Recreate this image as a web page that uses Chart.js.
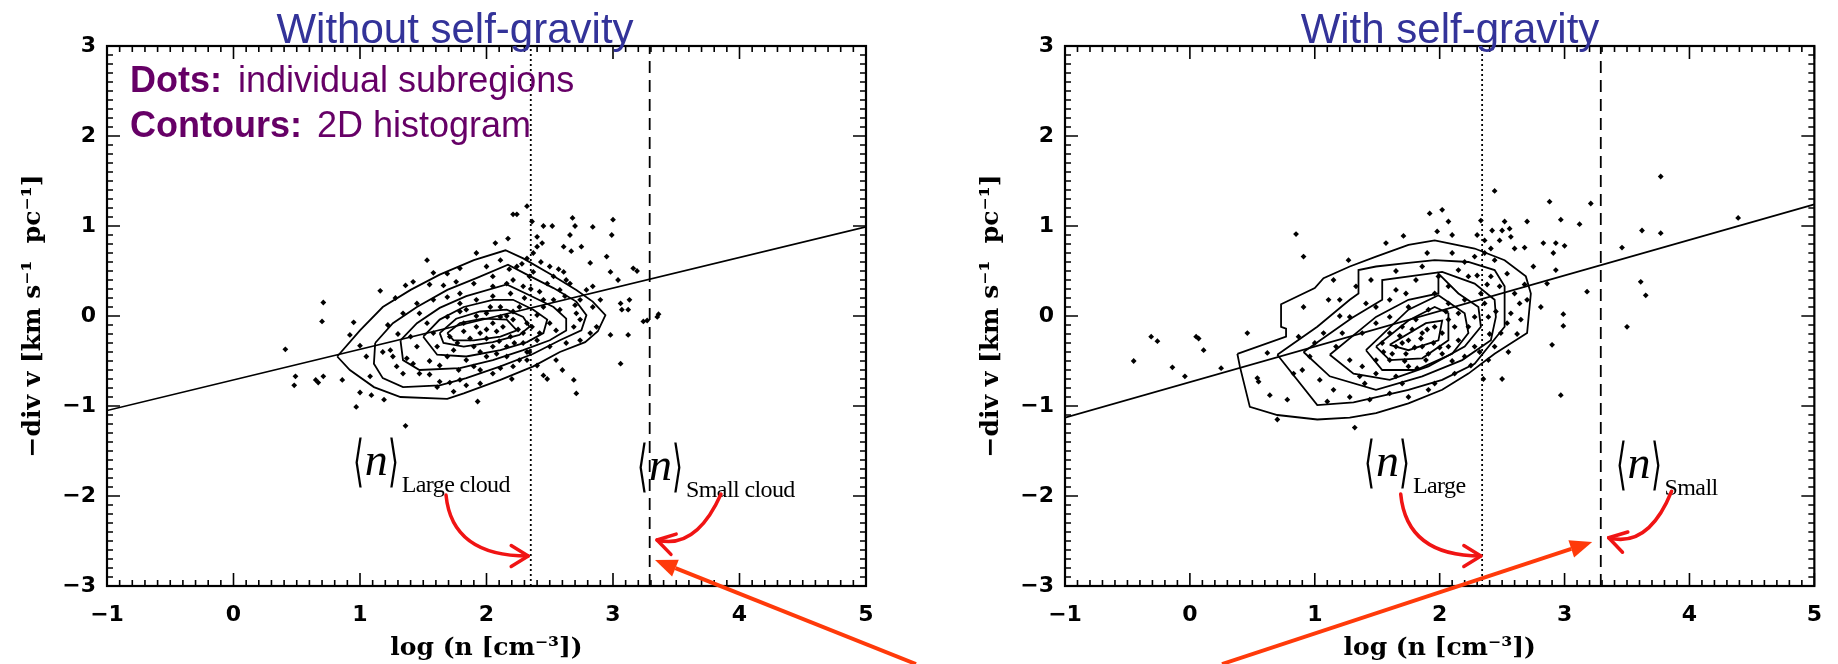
<!DOCTYPE html>
<html>
<head>
<meta charset="utf-8">
<script src="https://cdn.jsdelivr.net/npm/chart.js@4.4.0/dist/chart.umd.min.js"></script>
<style>
html,body{margin:0;padding:0;background:#fff;width:1838px;height:664px;overflow:hidden;}
.panel{position:absolute;top:0;width:919px;height:664px;}
#p1{left:0;} #p2{left:919px;}
</style>
</head>
<body>
<div class="panel" id="p1"><canvas id="c1" width="919" height="664"></canvas></div>
<div class="panel" id="p2"><canvas id="c2" width="919" height="664"></canvas></div>
<script>
// ---------- tick labels / texts ----------
const xTickValues = [-1, 0, 1, 2, 3, 4, 5];
const yTickValues = [-3, -2, -1, 0, 1, 2, 3];
const xAxisTitle = 'log (n [cm\u207B\u00B3])';
const yAxisTitle = '\u2212div v [km s\u207B\u00B9  pc\u207B\u00B9]';
const leftTitle = 'Without self-gravity';
const rightTitle = 'With self-gravity';

// ---------- left panel (without self-gravity) ----------
const leftDots = [[2.24,1.13],[2.21,1.13],[2.32,1.22],[2.36,1.05],[2.45,1.00],[2.52,1.00],[2.68,1.09],[2.70,1.00],[2.84,0.99],[3.00,1.07],[2.99,0.90],[2.66,0.90],[2.75,0.77],[2.61,0.77],[2.67,0.72],[2.40,0.88],[2.44,0.81],[2.40,0.77],[2.17,0.86],[2.07,0.81],[2.82,0.59],[2.95,0.66],[2.98,0.49],[3.04,0.40],[3.16,0.53],[3.19,0.50],[3.13,0.18],[3.06,0.14],[3.07,0.07],[3.12,0.07],[3.24,-0.06],[3.35,-0.01],[3.12,-0.21],[2.98,-0.21],[3.06,-0.53],[2.69,-0.71],[2.71,-0.86],[2.45,-0.66],[2.48,-0.70],[1.93,-0.95],[1.53,0.62],[1.16,0.28],[1.36,0.34],[0.71,0.15],[0.70,-0.06],[0.41,-0.37],[0.49,-0.67],[0.48,-0.77],[0.65,-0.71],[0.67,-0.74],[0.71,-0.67],[0.86,-0.71],[0.97,-1.01],[1.00,-0.85],[1.09,-0.88],[1.19,-0.93],[1.36,-1.22],[0.95,-0.07],[0.92,-0.21],[1.00,-0.33],[1.05,-0.45],[1.08,-0.67],[1.18,-0.40],[1.24,-0.38],[1.26,-0.45],[1.29,-0.56],[1.37,-0.47],[1.42,-0.53],[1.34,-0.64],[1.47,-0.64],[1.55,-0.65],[1.63,-0.73],[1.71,-0.74],[1.79,-0.71],[1.61,-0.79],[1.74,-0.84],[1.84,-0.77],[1.95,-0.60],[2.05,-0.64],[2.21,-0.56],[2.32,-0.49],[2.34,-0.40],[2.55,-0.49],[2.50,-0.34],[2.63,-0.30],[2.74,-0.27],[2.82,-0.19],[2.87,-0.12],[2.69,-0.12],[2.74,-0.04],[2.71,0.03],[2.84,0.10],[2.90,0.18],[2.74,0.18],[2.79,0.29],[2.84,0.33],[2.58,0.29],[2.63,0.40],[2.53,0.44],[2.61,0.49],[2.48,0.36],[2.42,0.27],[2.37,0.49],[2.32,0.64],[2.37,0.70],[2.24,0.55],[2.11,0.62],[2.21,0.40],[2.05,0.44],[1.92,0.70],[1.79,0.53],[1.69,0.47],[1.58,0.48],[1.90,0.36],[1.79,0.25],[1.69,0.21],[1.58,0.18],[1.45,0.14],[1.34,0.03],[1.47,0.03],[1.79,0.14],[1.92,0.18],[2.05,0.22],[2.19,0.25],[1.84,0.07],[2.00,0.03],[2.11,0.10],[2.26,0.10],[1.69,-0.01],[1.82,-0.08],[1.92,-0.12],[2.05,-0.08],[2.21,-0.04],[2.32,-0.08],[2.40,0.01],[1.53,-0.08],[1.58,-0.19],[1.71,-0.23],[1.82,-0.17],[1.95,-0.19],[2.08,-0.17],[2.19,-0.23],[2.29,-0.19],[2.42,-0.19],[1.40,-0.23],[1.45,-0.34],[1.61,-0.34],[1.74,-0.38],[1.90,-0.34],[2.05,-0.34],[2.16,-0.34],[2.29,-0.30],[2.40,-0.27],[1.69,-0.45],[1.84,-0.49],[2.00,-0.45],[2.16,-0.45],[2.32,-0.40],[1.90,-0.56],[2.11,-0.58],[2.26,-0.49],[2.45,0.10],[2.53,0.18],[2.50,-0.08],[2.58,0.07],[2.55,-0.16],[2.16,0.36],[2.05,0.33],[2.29,0.33],[2.34,0.44],[2.00,0.55],[1.66,0.34],[1.76,0.38],[3.36,0.02],[3.27,-0.05],[2.16,0.00],[2.21,0.05],[2.11,-0.01],[2.03,0.10],[1.92,0.00],[1.79,0.05],[2.00,-0.15],[2.13,-0.12],[2.25,-0.15],[2.36,-0.12],[1.87,-0.25],[2.00,-0.25],[2.10,-0.28],[2.22,-0.30],[1.95,-0.40],[2.08,-0.42],[1.77,-0.30],[1.63,-0.55],[1.78,-0.60],[2.18,0.52],[2.28,0.58],[2.43,0.60],[2.50,0.55],[2.57,0.52],[2.66,0.36],[2.70,0.12],[2.62,0.22],[2.35,0.30],[2.45,0.18],[2.30,0.20],[1.55,0.35],[1.42,0.38],[1.28,0.20],[1.22,-0.10],[1.30,-0.20],[1.55,-0.50],[1.95,-0.75],[2.20,-0.70],[2.40,-0.55],[2.60,-0.60]];
const leftFit = [[-1,-1.05],[5,0.99]];
const leftLargeMean = 2.35;
const leftSmallMean = 3.29;
const leftContour1 = [[0.82,-0.45],[1.00,-0.16],[1.18,0.10],[1.40,0.29],[1.63,0.46],[1.90,0.62],[2.15,0.73],[2.29,0.64],[2.50,0.47],[2.71,0.29],[2.84,0.16],[2.94,0.01],[2.88,-0.17],[2.78,-0.29],[2.58,-0.40],[2.37,-0.56],[2.11,-0.71],[1.82,-0.86],[1.69,-0.92],[1.32,-0.90],[1.11,-0.79],[0.92,-0.60]];
const leftContour2 = [[1.12,-0.30],[1.26,-0.08],[1.45,0.10],[1.69,0.29],[1.92,0.42],[2.17,0.57],[2.32,0.46],[2.53,0.31],[2.71,0.16],[2.79,0.01],[2.75,-0.16],[2.58,-0.27],[2.37,-0.42],[2.11,-0.56],[1.84,-0.69],[1.63,-0.77],[1.34,-0.79],[1.18,-0.69],[1.11,-0.53]];
const leftContour3 = [[1.32,-0.27],[1.45,-0.08],[1.63,0.09],[1.84,0.22],[2.16,0.35],[2.34,0.23],[2.53,0.10],[2.63,-0.03],[2.63,-0.16],[2.50,-0.27],[2.29,-0.38],[2.05,-0.49],[1.79,-0.58],[1.47,-0.60],[1.34,-0.49]];
const leftContour4 = [[1.50,-0.23],[1.63,-0.04],[1.82,0.10],[2.05,0.18],[2.21,0.18],[2.37,0.07],[2.48,-0.04],[2.45,-0.19],[2.32,-0.29],[2.11,-0.38],[1.84,-0.45],[1.61,-0.43]];
const leftContour5 = [[1.63,-0.19],[1.76,-0.03],[1.95,0.05],[2.16,0.07],[2.29,-0.01],[2.34,-0.12],[2.26,-0.21],[2.05,-0.29],[1.82,-0.34],[1.66,-0.30]];
const leftContour6 = [[1.69,-0.19],[1.79,-0.08],[1.97,-0.03],[2.16,-0.04],[2.24,-0.16],[2.11,-0.23],[1.90,-0.27],[1.74,-0.27]];
// annotation geometry in data units: [start, control, end]
const leftCurvedArrows = [[[1.68,-1.99],[1.727,-2.667],[2.33,-2.667]], [[3.854,-1.978],[3.656,-2.60],[3.348,-2.489]]];
const leftLongArrow = [[5.395,-3.867],[3.332,-2.711]];
const leftMeanLabels = [[0.942,-1.767,'Large cloud'], [3.190,-1.822,'Small cloud']];

// ---------- right panel (with self-gravity) ----------
const rightDots = [[2.44,1.39],[2.88,1.27],[3.21,1.25],[2.97,1.07],[3.12,1.02],[1.92,1.14],[2.02,1.18],[2.07,1.05],[2.33,1.06],[2.52,1.05],[2.56,0.97],[2.70,1.05],[2.42,0.95],[2.48,0.84],[2.57,0.88],[1.98,0.94],[1.71,0.89],[1.57,0.81],[0.85,0.91],[0.91,0.66],[1.27,0.62],[2.68,0.76],[2.83,0.81],[2.93,0.81],[3.00,0.78],[2.91,0.70],[2.93,0.51],[2.86,0.36],[3.18,0.27],[2.81,0.10],[2.99,0.02],[2.99,-0.11],[2.90,-0.32],[2.97,-0.88],[2.50,-0.70],[0.46,-0.19],[0.07,-0.25],[0.11,-0.38],[-0.04,-0.67],[0.25,-0.58],[0.62,-0.41],[0.54,-0.69],[0.55,-0.73],[0.64,-0.88],[0.70,-1.15],[0.78,-0.93],[0.91,0.10],[0.87,-0.23],[0.96,-0.45],[1.04,-0.71],[1.15,-0.82],[0.83,-0.64],[1.11,0.18],[1.20,0.18],[1.15,0.40],[1.33,0.33],[1.41,0.14],[1.28,-0.01],[1.49,-0.08],[1.60,-0.01],[1.65,0.29],[1.73,0.25],[1.81,0.40],[1.86,0.55],[1.99,0.44],[2.07,0.33],[2.15,0.51],[2.23,0.44],[2.28,0.66],[2.36,0.70],[2.44,0.62],[2.41,0.44],[2.48,0.33],[2.54,0.47],[2.60,0.25],[2.64,0.14],[2.70,0.18],[2.57,0.03],[2.65,-0.04],[2.54,-0.08],[2.49,-0.19],[2.44,-0.34],[2.39,-0.49],[2.28,-0.34],[2.20,-0.45],[2.12,-0.64],[1.96,-0.75],[1.91,-0.82],[1.75,-0.90],[1.60,-0.86],[1.44,-0.93],[1.28,-0.90],[1.36,-0.67],[1.49,-0.64],[1.65,-0.67],[1.75,-0.56],[1.89,-0.49],[2.02,-0.42],[2.15,-0.27],[2.23,-0.12],[2.28,-0.01],[2.15,0.03],[2.07,0.14],[2.20,0.18],[1.91,0.07],[1.81,-0.04],[1.70,-0.12],[1.60,-0.19],[1.54,-0.30],[1.65,-0.34],[1.75,-0.27],[1.86,-0.19],[1.96,-0.12],[2.02,-0.19],[1.86,-0.34],[1.91,-0.42],[2.07,-0.34],[1.73,-0.42],[1.60,-0.49],[1.49,-0.49],[1.38,-0.56],[1.28,-0.49],[1.17,-0.34],[1.07,-0.19],[1.22,-0.19],[1.38,-0.19],[1.49,0.10],[1.60,0.18],[1.75,0.10],[1.96,0.25],[2.07,-0.04],[2.12,-0.12],[2.33,0.25],[2.36,0.14],[2.39,-0.01],[2.36,0.84],[2.41,0.75],[3.77,1.55],[4.39,1.09],[3.62,0.95],[3.77,0.92],[3.61,0.38],[3.65,0.23],[3.50,-0.12],[-0.45,-0.50],[-0.31,-0.23],[-0.26,-0.28],[-0.14,-0.57],[0.05,-0.23],[1.32,-1.24],[3.46,0.76],[1.70,-0.30],[1.80,-0.35],[1.85,-0.25],[1.95,-0.30],[2.00,-0.35],[1.90,-0.15],[1.78,-0.15],[1.68,-0.22],[1.55,-0.40],[1.62,-0.42],[1.72,-0.50],[1.82,-0.58],[2.10,-0.50],[2.25,-0.55],[2.32,-0.40],[2.40,-0.20],[2.45,0.05],[2.38,0.35],[2.30,0.45],[2.20,0.60],[2.10,0.70],[1.90,0.70],[1.65,0.50],[1.45,0.40],[1.20,0.00],[1.00,-0.30],[0.90,-0.60],[1.10,-0.95],[1.40,-0.75],[1.70,-0.75],[2.35,-0.70],[2.55,-0.40],[2.62,-0.20],[2.68,0.35],[2.75,0.55],[2.60,0.75],[2.50,0.95],[2.30,0.90],[2.10,0.90],[2.05,0.05]];
const rightFit = [[-1,-1.13],[5,1.24]];
const rightLargeMean = 2.34;
const rightSmallMean = 3.29;
const rightContour1 = [[0.38,-0.42],[0.40,-0.56],[0.48,-1.01],[0.70,-1.10],[1.02,-1.15],[1.28,-1.13],[1.49,-1.08],[1.75,-0.97],[2.02,-0.82],[2.23,-0.64],[2.44,-0.42],[2.70,-0.19],[2.73,0.25],[2.69,0.44],[2.52,0.62],[2.28,0.75],[1.96,0.84],[1.75,0.79],[1.49,0.66],[1.28,0.55],[1.07,0.42],[1.00,0.31],[0.73,0.13],[0.73,-0.12],[0.77,-0.14],[0.77,-0.23]];
const rightContour2 = [[0.70,-0.43],[1.02,-0.99],[1.31,-0.96],[1.75,-0.82],[2.02,-0.71],[2.28,-0.53],[2.52,-0.12],[2.52,0.33],[2.44,0.51],[2.23,0.60],[1.96,0.62],[1.75,0.59],[1.49,0.55],[1.35,0.51],[1.35,0.25],[1.28,0.18],[1.02,-0.12]];
const rightContour3 = [[0.91,-0.40],[1.12,-0.67],[1.49,-0.82],[1.86,-0.67],[2.18,-0.49],[2.41,-0.27],[2.45,-0.01],[2.44,0.18],[2.28,0.36],[2.02,0.49],[1.54,0.40],[1.54,0.18],[1.30,-0.02]];
const rightContour4 = [[1.12,-0.43],[1.31,-0.64],[1.60,-0.71],[1.91,-0.56],[2.20,-0.34],[2.33,-0.12],[2.31,0.10],[2.15,0.25],[1.99,0.47],[1.99,0.25],[1.75,0.18],[1.49,-0.01]];
const rightContour5 = [[1.41,-0.38],[1.54,-0.60],[1.81,-0.60],[2.10,-0.42],[2.23,-0.19],[2.20,0.03],[1.99,0.23],[1.75,0.07]];
const rightContour6 = [[1.49,-0.34],[1.60,-0.49],[1.86,-0.47],[2.07,-0.27],[2.07,0.03],[1.96,0.10],[1.75,-0.05]];
const rightContour7 = [[1.60,-0.32],[1.75,-0.38],[1.99,-0.27],[2.02,-0.05],[1.89,-0.08]];
const rightCurvedArrows = [[[1.688,-1.978],[1.735,-2.667],[2.33,-2.667]], [[3.857,-1.947],[3.672,-2.58],[3.353,-2.464]]];
const rightLongArrow = [[0.257,-3.867],[3.221,-2.511]];
const rightMeanLabels = [[1.394,-1.778,'Large'], [3.408,-1.80,'Small']];

// ---------- helpers ----------
const toXY = arr => arr.map(p => ({x: p[0], y: p[1]}));
const ring = arr => toXY(arr.concat([arr[0]]));
const fmtTick = v => (v < 0 ? '\u2212' + Math.abs(v) : String(v));

function drawCurvedArrow(ctx, s, c, e) {
  ctx.save();
  ctx.strokeStyle = '#f01414';
  ctx.lineWidth = 3.5;
  ctx.lineCap = 'round';
  ctx.lineJoin = 'round';
  ctx.beginPath();
  ctx.moveTo(s.x, s.y);
  ctx.quadraticCurveTo(c.x, c.y, e.x, e.y);
  ctx.stroke();
  const ang = Math.atan2(e.y - c.y, e.x - c.x);
  const L = 20, sp = 0.55;
  ctx.beginPath();
  ctx.moveTo(e.x - L * Math.cos(ang - sp), e.y - L * Math.sin(ang - sp));
  ctx.lineTo(e.x, e.y);
  ctx.lineTo(e.x - L * Math.cos(ang + sp), e.y - L * Math.sin(ang + sp));
  ctx.stroke();
  ctx.restore();
}

function drawLongArrow(ctx, t0, t1) {
  ctx.save();
  const ang = Math.atan2(t1.y - t0.y, t1.x - t0.x);
  const L = 22, W = 9;
  const bx = t1.x - L * Math.cos(ang), by = t1.y - L * Math.sin(ang);
  ctx.strokeStyle = '#ff3a0a';
  ctx.fillStyle = '#ff3a0a';
  ctx.lineWidth = 4;
  ctx.beginPath();
  ctx.moveTo(t0.x, t0.y);
  ctx.lineTo(bx, by);
  ctx.stroke();
  ctx.beginPath();
  ctx.moveTo(t1.x, t1.y);
  ctx.lineTo(bx - W * Math.sin(ang), by + W * Math.cos(ang));
  ctx.lineTo(bx + W * Math.sin(ang), by - W * Math.cos(ang));
  ctx.closePath();
  ctx.fill();
  ctx.restore();
}

function drawMeanLabel(ctx, px, py, sub) {
  ctx.save();
  ctx.fillStyle = '#000';
  ctx.textAlign = 'left';
  const cy = py - 10;
  ['\u27E8', '\u27E9'].forEach((ch, i) => {
    ctx.save();
    ctx.translate(px + (i ? 35 : 0), cy);
    ctx.scale(1, 2.0);
    ctx.font = '200 28px "DejaVu Sans"';
    ctx.textBaseline = 'middle';
    ctx.fillText(ch, 0, 0);
    ctx.restore();
  });
  ctx.textBaseline = 'alphabetic';
  ctx.font = 'italic 46px "Liberation Serif"';
  ctx.fillText('n', px + 12, py);
  ctx.font = '24px "Liberation Serif"';
  ctx.letterSpacing = '-0.6px';
  ctx.fillText(sub, px + 49, py + 17);
  ctx.restore();
}

function decorPlugin(o) {
  return {
    id: 'decor_' + o.id,
    afterDatasetsDraw(chart) {
      const ctx = chart.ctx, a = chart.chartArea, xs = chart.scales.x, ys = chart.scales.y;
      const P = p => ({x: xs.getPixelForValue(p[0]), y: ys.getPixelForValue(p[1])});
      ctx.save();
      // inward ticks on all four sides
      ctx.strokeStyle = '#000';
      ctx.lineWidth = 1.6;
      ctx.beginPath();
      for (let i = 0; i <= 60; i++) {
        const px = xs.getPixelForValue(xs.min + i / 10);
        const L = (i % 10 === 0) ? 13 : 6;
        ctx.moveTo(px, a.bottom); ctx.lineTo(px, a.bottom - L);
        ctx.moveTo(px, a.top); ctx.lineTo(px, a.top + L);
      }
      for (let i = 0; i <= 60; i++) {
        const py = ys.getPixelForValue(ys.min + i / 10);
        const L = (i % 10 === 0) ? 13 : 6;
        ctx.moveTo(a.left, py); ctx.lineTo(a.left + L, py);
        ctx.moveTo(a.right, py); ctx.lineTo(a.right - L, py);
      }
      ctx.stroke();
      ctx.lineWidth = 2.2;
      ctx.strokeRect(a.left, a.top, a.right - a.left, a.bottom - a.top);
      ctx.restore();
      // mean-density labels
      o.meanLabels.forEach(m => { const q = P(m); drawMeanLabel(ctx, q.x, q.y, m[2]); });
      // red arrows
      o.curved.forEach(c => drawCurvedArrow(ctx, P(c[0]), P(c[1]), P(c[2])));
      drawLongArrow(ctx, P(o.longArrow[0]), P(o.longArrow[1]));
    },
    afterDraw(chart) {
      const ctx = chart.ctx;
      ctx.save();
      if (o.notes) {
        ctx.fillStyle = '#660066';
        ctx.textBaseline = 'alphabetic';
        ctx.textAlign = 'left';
        ctx.font = 'bold 36px "Liberation Sans"';
        ctx.fillText('Dots:', 130, 92);
        ctx.fillText('Contours:', 130, 137);
        ctx.font = '36px "Liberation Sans"';
        ctx.fillText('individual subregions', 238, 92);
        ctx.fillText('2D histogram', 317, 137);
      }
      ctx.fillStyle = '#333399';
      ctx.font = '42px "Liberation Sans"';
      ctx.textAlign = 'center';
      ctx.textBaseline = 'alphabetic';
      ctx.fillText(o.title, o.titleX, 43);
      ctx.restore();
    }
  };
}

function buildPanel(o) {
  const datasets = [];
  o.contours.forEach(c => datasets.push({data: ring(c), showLine: true, borderColor: '#000', borderWidth: 1.8, pointRadius: 0, pointHoverRadius: 0, fill: false}));
  datasets.push({data: toXY(o.fit), showLine: true, borderColor: '#000', borderWidth: 1.7, pointRadius: 0, pointHoverRadius: 0});
  datasets.push({data: toXY([[o.large, -3], [o.large, 3]]), showLine: true, borderColor: '#000', borderWidth: 1.8, borderDash: [2, 3], pointRadius: 0, pointHoverRadius: 0});
  datasets.push({data: toXY([[o.small, -3], [o.small, 3]]), showLine: true, borderColor: '#000', borderWidth: 1.8, borderDash: [12, 7], pointRadius: 0, pointHoverRadius: 0});
  datasets.push({data: toXY(o.dots), showLine: false, pointStyle: 'rectRot', pointRadius: 2.9, pointHoverRadius: 2.9, backgroundColor: '#000', borderColor: '#000', borderWidth: 0});

  new Chart(document.getElementById(o.canvas), {
    type: 'scatter',
    data: {datasets},
    options: {
      responsive: false,
      animation: false,
      devicePixelRatio: 1,
      events: [],
      layout: {padding: {left: o.padLeft, right: o.padRight, top: 46, bottom: 0}},
      plugins: {legend: {display: false}, tooltip: {enabled: false}, title: {display: false}},
      scales: {
        x: {
          type: 'linear', min: -1, max: 5,
          afterBuildTicks: s => { s.ticks = xTickValues.map(v => ({value: v})); },
          afterFit: s => { s.height = 78; },
          grid: {display: false, drawTicks: false},
          border: {display: false},
          ticks: {color: '#000', font: {family: 'DejaVu Sans', weight: 'bold', size: 22}, padding: 16, autoSkip: false, maxRotation: 0, callback: fmtTick},
          title: {display: true, text: xAxisTitle, color: '#000', font: {family: 'DejaVu Serif', weight: 'bold', size: 25}, padding: {top: 0, bottom: 1}}
        },
        y: {
          type: 'linear', min: -3, max: 3,
          afterBuildTicks: s => { s.ticks = yTickValues.map(v => ({value: v})); },
          afterFit: s => { s.width = 107; },
          grid: {display: false, drawTicks: false},
          border: {display: false},
          ticks: {color: '#000', font: {family: 'DejaVu Sans', weight: 'bold', size: 22}, padding: 11, autoSkip: false, callback: fmtTick},
          title: {display: true, text: yAxisTitle, color: '#000', font: {family: 'DejaVu Serif', weight: 'bold', size: 25}, padding: {top: 18, bottom: 0}}
        }
      }
    },
    plugins: [decorPlugin(o)]
  });
}

buildPanel({
  id: 'L', canvas: 'c1', padLeft: 0, padRight: 53,
  dots: leftDots, fit: leftFit, large: leftLargeMean, small: leftSmallMean,
  contours: [leftContour1, leftContour2, leftContour3, leftContour4, leftContour5, leftContour6],
  curved: leftCurvedArrows, longArrow: leftLongArrow, meanLabels: leftMeanLabels,
  title: leftTitle, titleX: 455, notes: true
});
buildPanel({
  id: 'R', canvas: 'c2', padLeft: 39, padRight: 14,
  dots: rightDots, fit: rightFit, large: rightLargeMean, small: rightSmallMean,
  contours: [rightContour1, rightContour2, rightContour3, rightContour4, rightContour5, rightContour6, rightContour7],
  curved: rightCurvedArrows, longArrow: rightLongArrow, meanLabels: rightMeanLabels,
  title: rightTitle, titleX: 531, notes: false
});
</script>
</body>
</html>
